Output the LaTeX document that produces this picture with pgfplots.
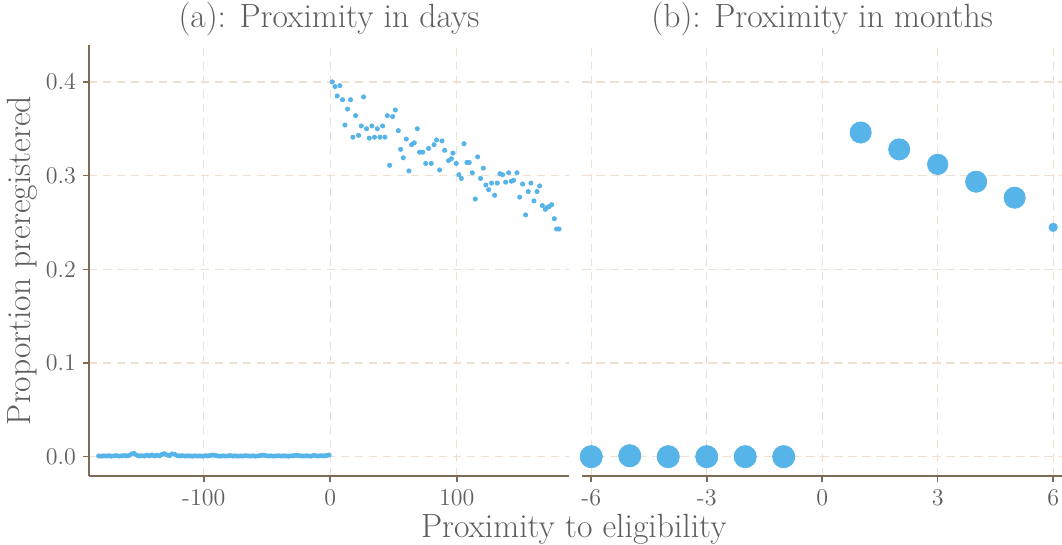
\documentclass[border=0pt]{standalone}
\usepackage{fontspec}
\usepackage{pgfplots}
\usepackage{pgfplotstable}
\pgfplotsset{compat=1.18}

\definecolor{dotblue}{HTML}{56B4E9}
\definecolor{axisbrown}{HTML}{7F6A55}
\definecolor{gridbeige}{HTML}{EEE0D2}
\definecolor{textgray}{HTML}{5E5E5E}

% days before eligibility
\pgfplotstableread{
d p
-183 0.0008
-181 0.0006
-179 0.0009
-177 0.0007
-175 0.0010
-173 0.0006
-171 0.0008
-169 0.0011
-167 0.0007
-165 0.0009
-163 0.0012
-161 0.0008
-159 0.0014
-157 0.0030
-155 0.0034
-153 0.0016
-151 0.0008
-149 0.0010
-147 0.0007
-145 0.0016
-143 0.0009
-141 0.0018
-139 0.0008
-137 0.0015
-135 0.0010
-133 0.0024
-131 0.0032
-129 0.0018
-127 0.0012
-125 0.0030
-123 0.0026
-121 0.0011
-119 0.0008
-117 0.0010
-115 0.0007
-113 0.0009
-111 0.0008
-109 0.0006
-107 0.0009
-105 0.0007
-103 0.0008
-101 0.0006
-99 0.0010
-97 0.0008
-95 0.0012
-93 0.0018
-91 0.0014
-89 0.0008
-87 0.0006
-85 0.0009
-83 0.0007
-81 0.0008
-79 0.0012
-77 0.0007
-75 0.0009
-73 0.0006
-71 0.0008
-69 0.0007
-67 0.0010
-65 0.0008
-63 0.0007
-61 0.0009
-59 0.0006
-57 0.0008
-55 0.0012
-53 0.0017
-51 0.0011
-49 0.0007
-47 0.0009
-45 0.0006
-43 0.0008
-41 0.0010
-39 0.0007
-37 0.0009
-35 0.0008
-33 0.0006
-31 0.0009
-29 0.0010
-27 0.0015
-25 0.0011
-23 0.0008
-21 0.0007
-19 0.0010
-17 0.0008
-15 0.0006
-13 0.0014
-11 0.0009
-9 0.0008
-7 0.0010
-5 0.0008
-3 0.0012
-1 0.0018
}\daysbefore

% days after eligibility
\pgfplotstableread{
d p
1.6 0.400
3.7 0.395
5.5 0.385
7.6 0.396
9.7 0.381
11.6 0.354
13.7 0.371
16.0 0.381
17.9 0.341
20.0 0.364
22.4 0.343
24.5 0.353
26.3 0.384
28.7 0.350
30.8 0.340
32.9 0.353
35.0 0.341
37.2 0.350
39.3 0.341
41.4 0.353
43.2 0.341
45.1 0.364
46.9 0.311
49.3 0.363
51.4 0.370
53.8 0.348
55.6 0.328
57.7 0.319
60.1 0.339
62.2 0.305
64.3 0.333
66.4 0.335
68.8 0.350
70.6 0.325
73.0 0.325
75.4 0.313
77.7 0.329
79.8 0.313
82.0 0.333
84.0 0.338
86.4 0.306
88.3 0.337
90.4 0.327
93.5 0.316
95.7 0.318
97.0 0.324
99.6 0.313
101.7 0.301
103.6 0.297
105.7 0.334
108.0 0.314
109.9 0.314
112.3 0.303
114.6 0.275
116.5 0.320
118.8 0.297
121.0 0.308
123.0 0.290
125.2 0.285
127.5 0.292
129.9 0.279
132.0 0.292
134.1 0.302
136.2 0.301
138.6 0.293
141.0 0.303
143.1 0.294
144.9 0.295
147.6 0.303
149.7 0.277
152.0 0.291
154.4 0.258
156.5 0.283
158.6 0.292
161.0 0.273
163.4 0.283
165.5 0.289
167.6 0.268
170.0 0.264
171.3 0.266
173.1 0.267
175.0 0.269
177.1 0.254
178.9 0.243
180.8 0.243
}\daysafter

\pgfplotsset{
  panel/.style={
    scale only axis, width=240pt, height=215.5pt,
    ymin=-0.0206, ymax=0.4394,
    ytick={0,0.1,0.2,0.3,0.4},
    axis x line*=bottom, axis y line*=left,
    axis line style={-, axisbrown, line width=0.8pt},
    tick align=outside, major tick length=3pt,
    tick style={axisbrown, line width=0.8pt},
    grid=major,
    major grid style={gridbeige, line width=0.6pt, dash pattern=on 4.2pt off 2.8pt},
    /pgf/number format/assume math mode=true,
    ticklabel style={font=\fontsize{12}{14}\selectfont, text=textgray},
    yticklabel style={/pgf/number format/.cd, fixed, fixed zerofill, precision=1},
    title style={font=\fontsize{16.8}{19}\selectfont, text=textgray,
      at={(0.5,1)}, anchor=center, yshift=6.8pt},
    label style={font=\fontsize{16.8}{19}\selectfont, text=textgray},
  },
  dots/.style={only marks, mark=*, color=dotblue, mark options={line width=0.4pt}},
}

\begin{document}
\begin{tikzpicture}
\path[use as bounding box] (-44.5pt,-34.5pt) rectangle (486.5pt,238pt);

\begin{axis}[panel,
  at={(0pt,0pt)}, anchor=south west,
  xmin=-190.7, xmax=188.7,
  xtick={-100,0,100},
  title={(a): Proximity in days},
  ylabel={Proportion preregistered},
  ylabel style={at={(axis description cs:-0.1396,0.5)}, anchor=center},
  xlabel={Proximity to eligibility},
  xlabel style={at={(axis description cs:1.010,-0.1241)}, anchor=center},
]
\addplot[dots, mark size=1.05pt] table[x=d, y=p] {\daysbefore};
\addplot[dots, mark size=1.05pt] table[x=d, y=p] {\daysafter};
\end{axis}

\begin{axis}[panel,
  at={(246.6pt,0pt)}, anchor=south west,
  xmin=-6.235, xmax=6.235,
  xtick={-6,-3,0,3,6},
  y axis line style={draw=none},
  ytick style={draw=none},
  yticklabels={},
  title={(b): Proximity in months},
]
\addplot[dots, mark size=5.55pt]
  coordinates {(-6,0.0) (-5,0.001) (-4,0.0) (-3,0.0) (-2,0.0) (-1,0.0)};
\addplot[dots, mark size=5.3pt]
  coordinates {(1,0.346) (2,0.328) (4,0.2935) (5,0.2764)};
\addplot[dots, mark size=5.1pt]
  coordinates {(3,0.312)};
\addplot[dots, mark size=2.1pt]
  coordinates {(6,0.2448)};
\end{axis}
\end{tikzpicture}
\end{document}
